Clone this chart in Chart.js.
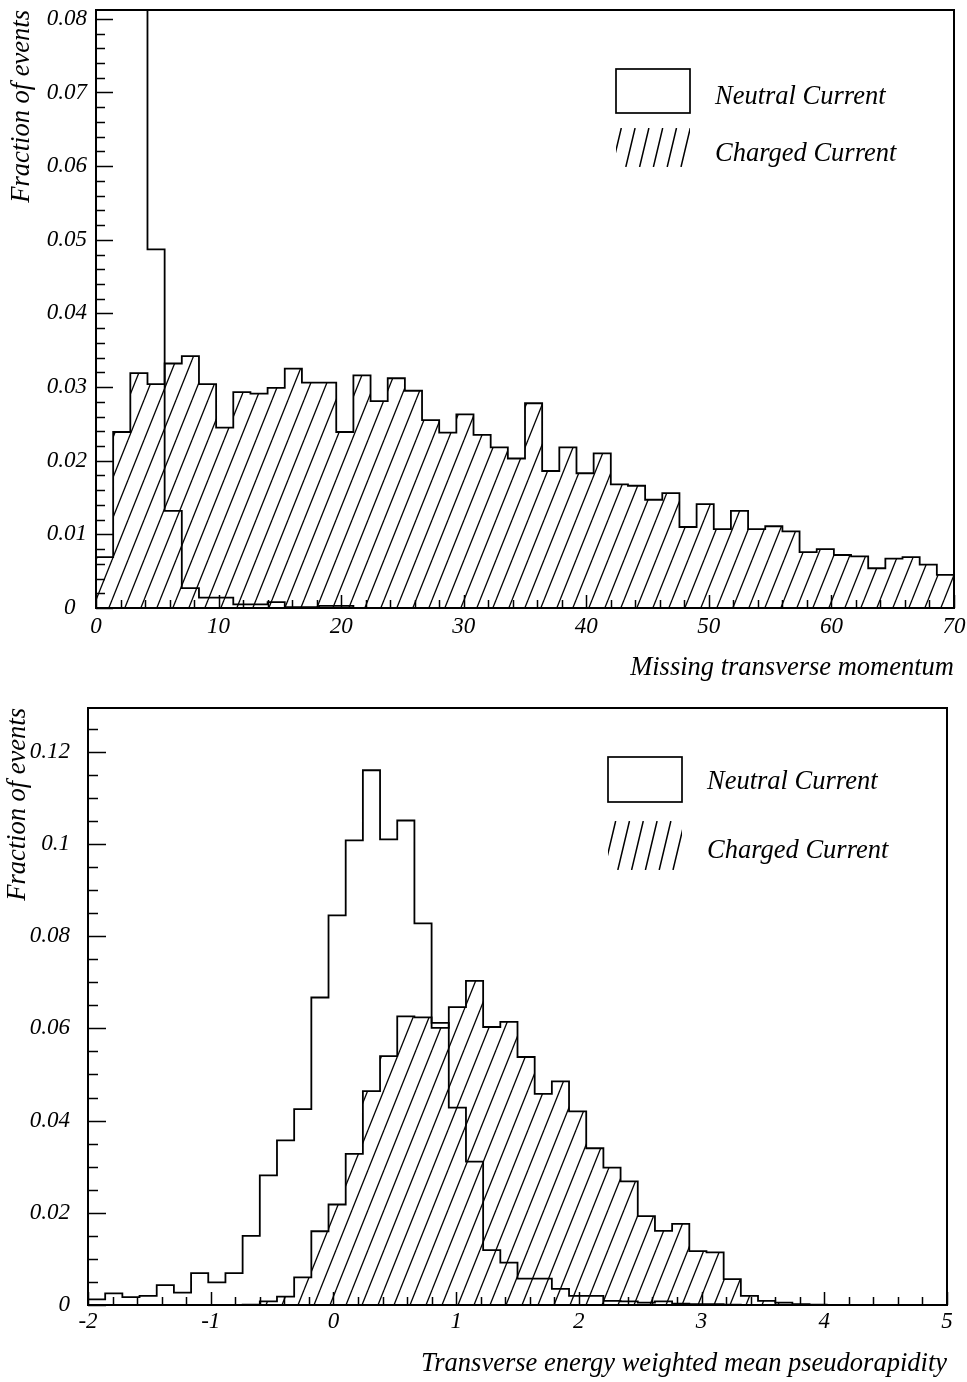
<!DOCTYPE html>
<html><head><meta charset="utf-8">
<script src="https://cdn.jsdelivr.net/npm/chart.js@4.4.1/dist/chart.umd.min.js"></script>
<style>
html,body{margin:0;padding:0;background:#fff;}
#wrap{position:relative;width:967px;height:1382px;overflow:hidden;background:#fff;}
canvas{position:absolute;left:0;}
#c1{top:0;} #c2{top:690px;}
</style></head><body>
<div id="wrap"><canvas id="c1" width="967" height="690"></canvas><canvas id="c2" width="967" height="692"></canvas></div>
<script>
// ---------- Top panel: missing transverse momentum (50 bins, width 1.4, from 0 to 70)
const ptBinStart = 0;
const ptBinWidth = 1.4;
const ptNeutral = [0.22, 0.42, 0.29, 0.0487, 0.0132, 0.0027, 0.0014, 0.0014, 0.0005, 0.0005,
  0.0008, 0.0001, 0.0001, 0.0003, 0.0003, 0, 0, 0, 0, 0,
  0, 0, 0, 0, 0, 0, 0, 0, 0, 0,
  0, 0, 0, 0, 0, 0, 0, 0, 0, 0,
  0, 0, 0, 0, 0, 0, 0, 0, 0, 0];
const ptCharged = [0.0069, 0.0239, 0.0319, 0.0304, 0.0332, 0.0342, 0.0304, 0.0245, 0.0293, 0.0291,
  0.0299, 0.0325, 0.0306, 0.0306, 0.0239, 0.0316, 0.0281, 0.0312, 0.0295, 0.0255,
  0.0238, 0.0263, 0.0235, 0.0218, 0.0203, 0.0278, 0.0186, 0.0218, 0.0183, 0.0210,
  0.0168, 0.0166, 0.0147, 0.0156, 0.0110, 0.0141, 0.0107, 0.0132, 0.0107, 0.0111,
  0.0104, 0.0076, 0.0080, 0.0072, 0.0070, 0.0054, 0.0067, 0.0069, 0.0059, 0.0045];
const ptXTicks = [0, 10, 20, 30, 40, 50, 60, 70];
const ptXLabels = ['0', '10', '20', '30', '40', '50', '60', '70'];
const ptYTicks = [0, 0.01, 0.02, 0.03, 0.04, 0.05, 0.06, 0.07, 0.08];
const ptYLabels = ['0  ', '0.01', '0.02', '0.03', '0.04', '0.05', '0.06', '0.07', '0.08'];

// ---------- Bottom panel: Et-weighted mean pseudorapidity (50 bins, width 0.14, from -2 to 5)
const etaBinStart = -2;
const etaBinWidth = 0.14;
const etaNeutral = [0.0012, 0.0025, 0.0017, 0.0020, 0.0043, 0.0027, 0.0069, 0.0049, 0.0069, 0.0150,
  0.0281, 0.0357, 0.0425, 0.0667, 0.0845, 0.1008, 0.1160, 0.1010, 0.1051, 0.0828,
  0.0612, 0.0428, 0.0311, 0.0119, 0.0092, 0.0057, 0.0057, 0.0035, 0.0020, 0.0020,
  0.0009, 0.0008, 0.0005, 0.0008, 0.0003, 0.0002, 0.0002, 0.0001, 0, 0,
  0, 0, 0, 0, 0, 0, 0, 0, 0, 0];
const etaCharged = [0, 0, 0, 0, 0, 0, 0, 0, 0, 0.0001,
  0.0008, 0.0018, 0.0060, 0.0160, 0.0218, 0.0328, 0.0464, 0.0540, 0.0626, 0.0624,
  0.0601, 0.0646, 0.0703, 0.0603, 0.0614, 0.0538, 0.0458, 0.0485, 0.0420, 0.0340,
  0.0298, 0.0268, 0.0193, 0.0161, 0.0176, 0.0117, 0.0114, 0.0056, 0.0020, 0.0009,
  0.0005, 0.0002, 0.0001, 0, 0, 0, 0, 0, 0, 0];
const etaXTicks = [-2, -1, 0, 1, 2, 3, 4, 5];
const etaXLabels = ['-2', '-1', '0', '1', '2', '3', '4', '5'];
const etaYTicks = [0, 0.02, 0.04, 0.06, 0.08, 0.1, 0.12];
const etaYLabels = ['0', '0.02', '0.04', '0.06', '0.08', '0.1', '0.12'];

const seriesNames = ['Neutral Current', 'Charged Current'];
const xTitles = ['Missing transverse momentum', 'Transverse energy weighted mean pseudorapidity'];
const yTitle = 'Fraction of events';

// histogram -> step points (bin lower edges + closing edge)
function steps(start, width, vals) {
  const pts = [{x: start, y: 0}];
  vals.forEach((v, i) => pts.push({x: start + i * width, y: v}));
  const end = start + vals.length * width;
  pts.push({x: end, y: vals[vals.length - 1]});
  pts.push({x: end, y: 0});
  return pts;
}

function makeHatch(ctx, gap, rise, lw) {
  const c = document.createElement('canvas');
  c.width = gap; c.height = rise;
  const g = c.getContext('2d');
  g.strokeStyle = '#000'; g.lineWidth = lw;
  for (const dx of [-gap, 0, gap]) {
    g.beginPath(); g.moveTo(dx, rise); g.lineTo(dx + gap, 0); g.stroke();
  }
  return ctx.createPattern(c, 'repeat');
}

const SERIF = "'Liberation Serif', 'Times New Roman', 'DejaVu Serif', serif";
const tickFont = {family: SERIF, size: 23, style: 'italic', weight: 'normal', lineHeight: 1.2};
const titleFont = {family: SERIF, size: 26.5, style: 'italic', weight: 'normal', lineHeight: 1.2};

const hepFrame = {
  id: 'hepFrame',
  afterDatasetsDraw(chart, args, o) {
    const {ctx, chartArea: a} = chart;
    const xs = chart.scales.x, ys = chart.scales.y;
    ctx.save();
    ctx.strokeStyle = '#000';
    ctx.lineWidth = 1.5;
    ctx.beginPath();
    const nx = Math.round((xs.max - xs.min) / o.xMinor);
    for (let i = 0; i <= nx; i++) {
      const px = Math.round(xs.getPixelForValue(xs.min + i * o.xMinor)) + 0.5;
      const len = i % o.xMajorEvery === 0 ? o.xMajorLen : o.xMinorLen;
      ctx.moveTo(px, a.bottom); ctx.lineTo(px, a.bottom - len);
    }
    const ny = Math.floor((ys.max - ys.min) / o.yMinor + 1e-6);
    for (let i = 0; i <= ny; i++) {
      const py = Math.round(ys.getPixelForValue(ys.min + i * o.yMinor)) + 0.5;
      const len = i % o.yMajorEvery === 0 ? o.yMajorLen : o.yMinorLen;
      ctx.moveTo(a.left, py); ctx.lineTo(a.left + len, py);
    }
    ctx.stroke();
    ctx.lineWidth = 2;
    ctx.strokeRect(a.left, a.top, a.right - a.left, a.bottom - a.top);

    // legend
    const L = o.legend;
    ctx.lineWidth = 1.7;
    ctx.strokeRect(L.x, L.boxY, L.w, L.boxH);
    ctx.save();
    ctx.beginPath(); ctx.rect(L.x, L.hatchY, L.w, L.hatchH); ctx.clip();
    ctx.lineWidth = 1.5; ctx.beginPath();
    for (let k = 0; k < 8; k++) {
      const xb = L.x + L.hatchOffset + k * L.hatchGap;
      ctx.moveTo(xb, L.hatchY + L.hatchH);
      ctx.lineTo(xb + L.hatchH / L.hatchSlope, L.hatchY);
    }
    ctx.stroke();
    ctx.restore();
    ctx.fillStyle = '#000';
    ctx.font = 'italic normal 26.5px ' + SERIF;
    ctx.textAlign = 'left'; ctx.textBaseline = 'alphabetic';
    ctx.fillText(chart.data.datasets[0].label, L.textX, L.ncBase);
    ctx.fillText(chart.data.datasets[1].label, L.textX, L.ccBase);
    ctx.restore();
  }
};

function buildChart(canvas, cfg) {
  const ctx = canvas.getContext('2d');
  const hatch = makeHatch(ctx, 16, 40, 1.3);
  return new Chart(canvas, {
    type: 'line',
    data: {datasets: [
      {label: seriesNames[0], data: steps(cfg.start, cfg.width, cfg.nc), stepped: 'before',
       borderColor: '#000', borderWidth: 1.8, pointRadius: 0, fill: false},
      {label: seriesNames[1], data: steps(cfg.start, cfg.width, cfg.cc), stepped: 'before',
       borderColor: '#000', borderWidth: 1.8, pointRadius: 0, fill: 'origin', backgroundColor: hatch}
    ]},
    options: {
      responsive: false, animation: false, devicePixelRatio: 1,
      layout: {padding: cfg.pad},
      events: [],
      plugins: {legend: {display: false}, tooltip: {enabled: false}, hepFrame: cfg.frame},
      scales: {
        x: {
          type: 'linear', min: cfg.xMin, max: cfg.xMax,
          grid: {display: false, drawTicks: false}, border: {display: false},
          afterBuildTicks: s => { s.ticks = cfg.xTicks.map(v => ({value: v})); },
          afterFit: s => { s.height = cfg.xH; s.paddingLeft = 0; s.paddingRight = 0; },
          ticks: {color: '#000', font: tickFont, padding: cfg.xPad, maxRotation: 0, autoSkip: false,
                  callback: (v, i) => cfg.xLabels[i]},
          title: {display: true, text: cfg.xTitle, align: 'end', color: '#000', font: titleFont,
                  padding: {top: 0, bottom: cfg.xTitlePad}}
        },
        y: {
          type: 'linear', min: 0, max: cfg.yMax,
          grid: {display: false, drawTicks: false}, border: {display: false},
          afterBuildTicks: s => { s.ticks = cfg.yTicks.map(v => ({value: v})); },
          afterFit: s => { s.width = cfg.yW; s.paddingTop = 0; s.paddingBottom = 0; },
          ticks: {color: '#000', font: tickFont, padding: cfg.yPad, autoSkip: false,
                  callback: (v, i) => cfg.yLabels[i]},
          title: {display: true, text: yTitle, align: 'end', color: '#000', font: titleFont,
                  padding: {top: cfg.yTitlePad, bottom: 0}}
        }
      }
    },
    plugins: [hepFrame]
  });
}

buildChart(document.getElementById('c1'), {
  start: ptBinStart, width: ptBinWidth, nc: ptNeutral, cc: ptCharged,
  xMin: 0, xMax: 70, yMax: 0.0812,
  xTicks: ptXTicks, xLabels: ptXLabels, yTicks: ptYTicks, yLabels: ptYLabels,
  xTitle: xTitles[0],
  pad: {left: 0, right: 13, top: 10, bottom: 0},
  xH: 82, yW: 96, xPad: 5, yPad: 9, xTitlePad: 6, yTitlePad: 6,
  frame: {xMinor: 2, xMajorEvery: 5, xMajorLen: 13, xMinorLen: 8,
          yMinor: 0.002, yMajorEvery: 5, yMajorLen: 17, yMinorLen: 9,
          legend: {x: 616, w: 74, boxY: 69, boxH: 44, hatchY: 128, hatchH: 39,
                   hatchOffset: -4, hatchGap: 13.8, hatchSlope: 4.2,
                   textX: 715, ncBase: 104, ccBase: 161}}
});

buildChart(document.getElementById('c2'), {
  start: etaBinStart, width: etaBinWidth, nc: etaNeutral, cc: etaCharged,
  xMin: -2, xMax: 5, yMax: 0.1295,
  xTicks: etaXTicks, xLabels: etaXLabels, yTicks: etaYTicks, yLabels: etaYLabels,
  xTitle: xTitles[1],
  pad: {left: 0, right: 20, top: 18, bottom: 0},
  xH: 77, yW: 88, xPad: 3, yPad: 18, xTitlePad: 2, yTitlePad: 2,
  frame: {xMinor: 0.2, xMajorEvery: 5, xMajorLen: 13, xMinorLen: 8,
          yMinor: 0.005, yMajorEvery: 4, yMajorLen: 18, yMinorLen: 10,
          legend: {x: 608, w: 74, boxY: 67, boxH: 45, hatchY: 131, hatchH: 49,
                   hatchOffset: -4, hatchGap: 13.8, hatchSlope: 4.2,
                   textX: 707, ncBase: 99, ccBase: 168}}
});
</script>
</body></html>
